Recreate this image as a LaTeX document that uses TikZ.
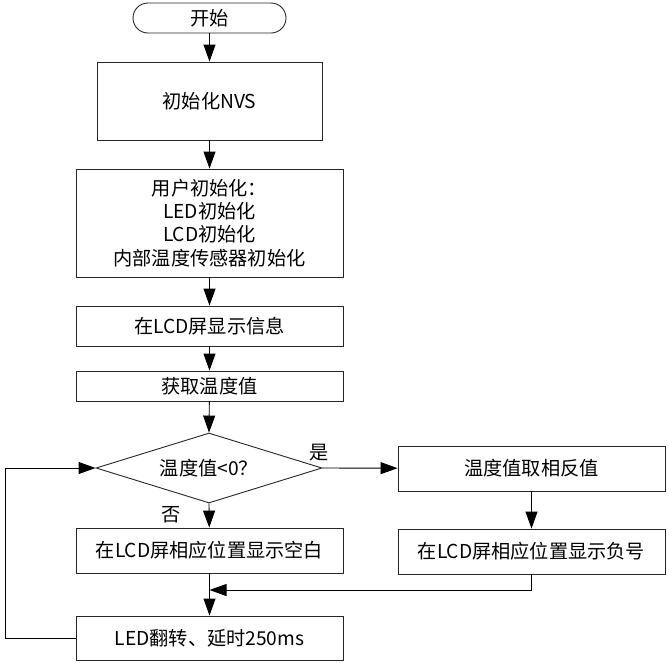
\documentclass[tikz,border=0pt]{standalone}
\usepackage{fontspec}
\setmainfont{Noto Sans CJK SC}
\usetikzlibrary{shapes.geometric,arrows.meta}
\begin{document}
\begin{tikzpicture}[x=1pt,y=-1pt,
  every node/.style={font=\fontsize{19.2}{23.3}\selectfont},
  box/.style={draw=black!85,line width=0.9pt,rectangle,inner sep=0pt,align=center},
  term/.style={box,rounded corners=15pt},
  dec/.style={draw=black!85,line width=0.9pt,diamond,aspect=3.23,inner sep=0pt,minimum width=226pt,minimum height=70pt},
  conn/.style={line width=0.9pt,-{Triangle[length=17pt,width=12pt]}},
  plain/.style={line width=0.9pt}]
\useasboundingbox (0,0) rectangle (669,662);
\node[term,minimum width=153pt,minimum height=30pt] (start) at (209.5,18) {开始};
\node[box,minimum width=225pt,minimum height=78pt] (nvs) at (209.5,101) {初始化NVS};
\node[box,minimum width=267pt,minimum height=108pt] (user) at (209.5,223) {用户初始化：\\LED初始化\\LCD初始化\\内部温度传感器初始化};
\node[box,minimum width=267pt,minimum height=40pt] (lcd) at (209.5,326) {在LCD屏显示信息};
\node[box,minimum width=267pt,minimum height=30pt] (get) at (209.5,386) {获取温度值};
\node[dec] (dec) at (209,468) {温度值<0？};
\node[box,minimum width=267pt,minimum height=45pt] (neg) at (531.5,468.5) {温度值取相反值};
\node[box,minimum width=267pt,minimum height=45pt] (showneg) at (531.5,551.5) {在LCD屏相应位置显示负号};
\node[box,minimum width=267pt,minimum height=45pt] (blank) at (209.5,550.5) {在LCD屏相应位置显示空白};
\node[box,minimum width=267pt,minimum height=44pt] (led) at (209.5,638) {LED翻转、延时250ms};
\node (yes) at (319,453) {是};
\node (no) at (171,515) {否};
\coordinate (m) at (209.5,590);
\coordinate (mr) at (531.5,590);
\coordinate (lb) at (5,638);
\coordinate (lt) at (5,468);
\draw[conn] (start) -- (nvs);
\draw[conn] (nvs) -- (user);
\draw[conn] (user) -- (lcd);
\draw[conn] (lcd) -- (get);
\draw[conn] (get) -- (dec.north);
\draw[conn] (dec.south) -- (blank);
\draw[conn] (dec.east) -- (neg);
\draw[conn] (neg) -- (showneg);
\draw[conn] (blank) -- (led);
\draw[conn] (showneg.south) -- (mr) -- (m);
\draw[conn] (led.west) -- (lb) -- (lt) -- (dec.west);
\end{tikzpicture}
\end{document}
